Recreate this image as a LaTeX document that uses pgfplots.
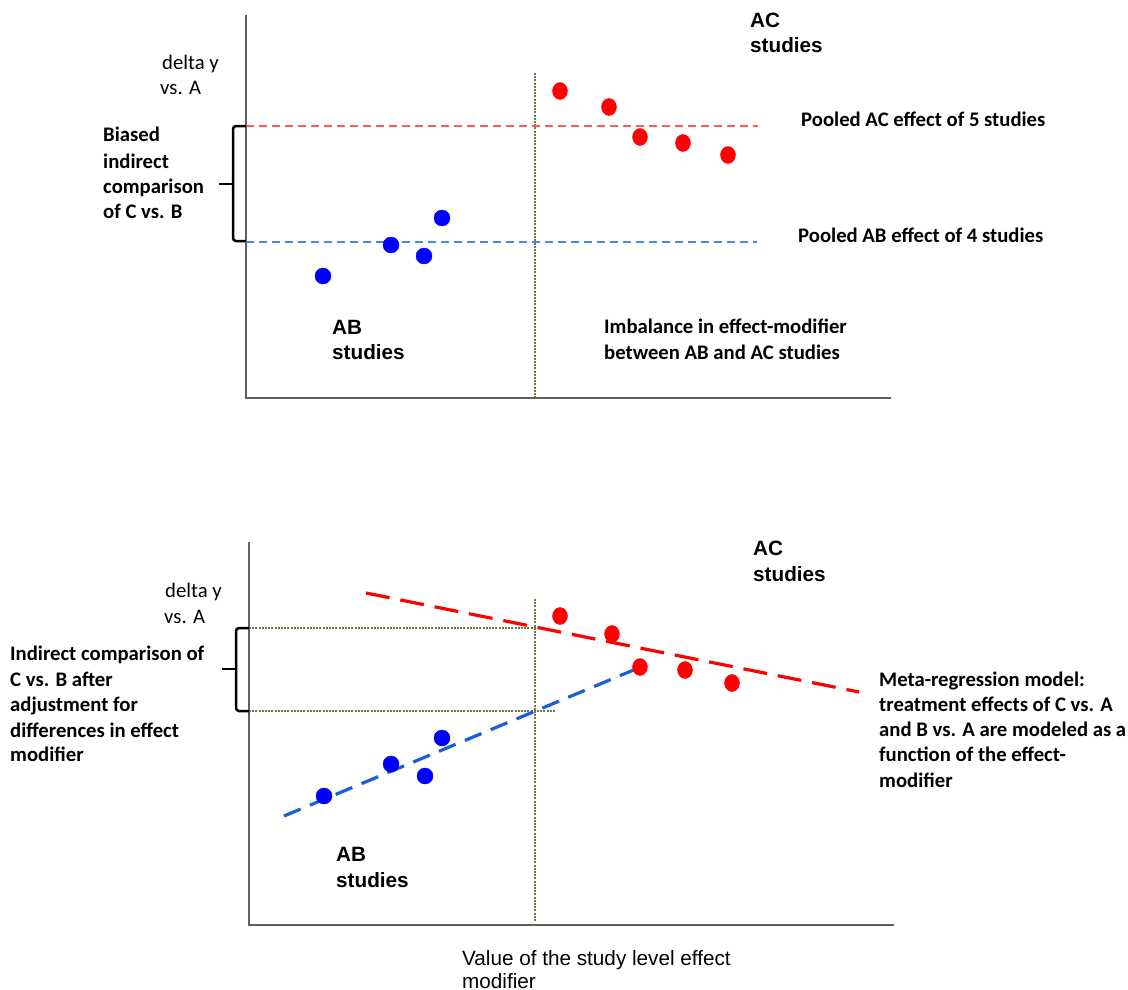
\documentclass[border=0pt]{standalone}
\usepackage{fontspec}
\setmainfont{Carlito}
\newfontfamily\arialf{Liberation Sans}
\usepackage{pgfplots}
\pgfplotsset{compat=1.18}
\definecolor{axgray}{HTML}{606060}
\definecolor{topred}{HTML}{FF5A5A}
\definecolor{topblue}{HTML}{4A86E8}
\definecolor{olivel}{HTML}{6B7B45}
\definecolor{regblue}{HTML}{1A5FD8}
\newcommand{\fs}{\fontsize{20.7}{25.3}\selectfont}
\tikzset{t/.style={inner sep=0pt, anchor=base west}}
\begin{document}
\begin{tikzpicture}
\useasboundingbox (0,0) rectangle (1128pt,990pt);
\begin{axis}[at={(0,0)}, anchor=south west,
  width=1128pt, height=990pt, scale only axis,
  xmin=0, xmax=1128, ymin=0, ymax=990, y dir=reverse,
  axis lines=none, clip=false]
% ---------- top panel ----------
\addplot[axgray, line width=2pt, no marks] coordinates {(246,15) (246,398) (891,398)};
\addplot[olivel, line width=1.2pt, dash pattern=on 2pt off 1.2pt, no marks] coordinates {(535,73) (535,397)};
\addplot[topred, line width=1.4pt, dash pattern=on 8pt off 5pt, no marks] coordinates {(246,126) (758,126)};
\addplot[topblue, line width=1.4pt, dash pattern=on 8pt off 5pt, no marks] coordinates {(246,242) (757,242)};
\addplot[only marks, mark=*, color=red, mark size=8.5pt, mark options={xscale=0.88}] coordinates {(560,91) (609,107) (640,137) (683,143) (728,155)};
\addplot[only marks, mark=*, color=blue, mark size=8pt] coordinates {(323,276) (391,245) (424,256) (442,218)};
\draw[line width=2.5pt, rounded corners=3pt] (axis cs:246,126) -- (axis cs:233,126) -- (axis cs:233,241) -- (axis cs:246,241);
\draw[line width=2.5pt] (axis cs:233,184) -- (axis cs:219,184);
\node[t, font=\fs] at (axis cs:162,70) {delta y};
\node[t, font=\fs] at (axis cs:160,95) {vs. A};
\node[t, font=\fs\bfseries] at (axis cs:103,142) {Biased};
\node[t, font=\fs\bfseries] at (axis cs:103,168) {indirect};
\node[t, font=\fs\bfseries] at (axis cs:103,193) {comparison};
\node[t, font=\fs\bfseries] at (axis cs:103,218) {of C vs. B};
\node[t, font=\arialf\fs\bfseries] at (axis cs:750,28) {AC};
\node[t, font=\arialf\fs\bfseries] at (axis cs:750,53) {studies};
\node[t, font=\fs\bfseries] at (axis cs:801,126) {Pooled AC effect of 5 studies};
\node[t, font=\fs\bfseries] at (axis cs:798,242) {Pooled AB effect of 4 studies};
\node[t, font=\arialf\fs\bfseries] at (axis cs:332,334) {AB};
\node[t, font=\arialf\fs\bfseries] at (axis cs:332,359) {studies};
\node[t, font=\fs\bfseries] at (axis cs:604,333) {Imbalance in effect-modifier};
\node[t, font=\fs\bfseries] at (axis cs:604,359) {between AB and AC studies};
% ---------- bottom panel ----------
\addplot[axgray, line width=2pt, no marks] coordinates {(249,542) (249,925) (894,925)};
\addplot[olivel, line width=1.2pt, dash pattern=on 2pt off 1.2pt, no marks] coordinates {(535,599) (535,922)};
\addplot[olivel, line width=1.2pt, dash pattern=on 2pt off 1.2pt, no marks] coordinates {(249,628) (537,628)};
\addplot[olivel, line width=1.2pt, dash pattern=on 2pt off 1.2pt, no marks] coordinates {(249,711) (556,711)};
\addplot[red, line width=3.2pt, dash pattern=on 24pt off 11pt, no marks] coordinates {(366,593) (859,692)};
\addplot[regblue, line width=3.2pt, dash pattern=on 18pt off 10pt, no marks] coordinates {(284,816) (636,669)};
\addplot[only marks, mark=*, color=red, mark size=8.5pt, mark options={xscale=0.88}] coordinates {(560,616) (612,634) (640,667) (685,670) (732,683)};
\addplot[only marks, mark=*, color=blue, mark size=8pt] coordinates {(324,796) (391,764) (425,776) (442,738)};
\draw[line width=2.5pt, rounded corners=3pt] (axis cs:249,628) -- (axis cs:236,628) -- (axis cs:236,711) -- (axis cs:249,711);
\draw[line width=2.5pt] (axis cs:236,669) -- (axis cs:222,669);
\node[t, font=\fs] at (axis cs:165,597) {delta y};
\node[t, font=\fs] at (axis cs:164,623) {vs. A};
\node[t, font=\fs\bfseries] at (axis cs:10,660) {Indirect comparison of};
\node[t, font=\fs\bfseries] at (axis cs:10,686) {C vs. B after};
\node[t, font=\fs\bfseries] at (axis cs:10,711) {adjustment for};
\node[t, font=\fs\bfseries] at (axis cs:10,737) {differences in effect};
\node[t, font=\fs\bfseries] at (axis cs:10,761) {modifier};
\node[t, font=\arialf\fs\bfseries] at (axis cs:753,555) {AC};
\node[t, font=\arialf\fs\bfseries] at (axis cs:753,581) {studies};
\node[t, font=\arialf\fs\bfseries] at (axis cs:336,861) {AB};
\node[t, font=\arialf\fs\bfseries] at (axis cs:336,887) {studies};
\node[t, font=\fs\bfseries] at (axis cs:879,686) {Meta-regression model:};
\node[t, font=\fs\bfseries] at (axis cs:879,711) {treatment effects of C vs. A};
\node[t, font=\fs\bfseries] at (axis cs:879,736) {and B vs. A are modeled as a};
\node[t, font=\fs\bfseries] at (axis cs:879,761) {function of the effect-};
\node[t, font=\fs\bfseries] at (axis cs:879,787) {modifier};
\node[t, font=\arialf\fs] at (axis cs:462,965) {Value of the study level effect};
\node[t, font=\arialf\fs] at (axis cs:462,988) {modifier};
\end{axis}
\end{tikzpicture}
\end{document}
